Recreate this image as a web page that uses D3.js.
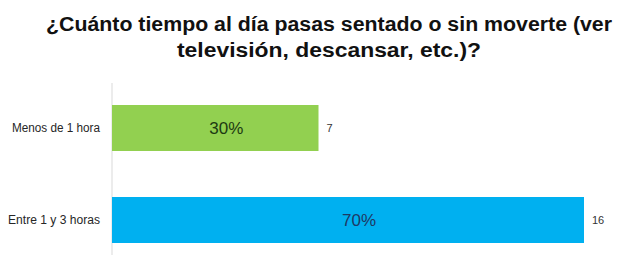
<!DOCTYPE html>
<html><head><meta charset="utf-8">
<script src="https://cdn.jsdelivr.net/npm/d3@7"></script>
<style>body{margin:0;background:#fff}svg{display:block}</style>
</head><body>
<svg id="c" width="623" height="255"></svg>
<script>
const titleLines = ["¿Cuánto tiempo al día pasas sentado o sin moverte (ver", "televisión, descansar, etc.)?"];
const categories = ["Menos de 1 hora", "Entre 1 y 3 horas"];
const counts = [7, 16];
const percents = ["30%", "70%"];
const colors = ["#92d050", "#00b0f0"];
const pctColors = ["#1d3a12", "#1f3864"];

const svg = d3.select("#c");
const font = "'Liberation Sans', Arial, sans-serif";

const x = d3.scaleLinear().domain([0, 16]).range([112, 584]);
const y = d3.scaleBand().domain(categories).range([82, 266]).paddingInner(0.5).paddingOuter(0.25);

// title
const tw = [566, 304];
const tc = 329;
const tb = [31, 57];
titleLines.forEach((t, i) => {
  svg.append("text").attr("x", tc).attr("y", tb[i]).attr("text-anchor", "middle")
    .attr("font-family", font).attr("font-weight", "bold").attr("font-size", 20)
    .attr("fill", "#111").attr("textLength", tw[i]).attr("lengthAdjust", "spacingAndGlyphs")
    .text(t);
});

// axis line
svg.append("line").attr("x1", 112).attr("x2", 112).attr("y1", 83).attr("y2", 255)
  .attr("stroke", "#d9d9d9").attr("stroke-width", 1);

const g = svg.append("g");
g.selectAll("rect").data(categories).join("rect")
  .attr("x", x(0)).attr("y", d => y(d))
  .attr("width", (d, i) => x(counts[i]) - x(0)).attr("height", y.bandwidth())
  .attr("fill", (d, i) => colors[i]);

// category labels
const catW = [88, 92];
g.selectAll("text.cat").data(categories).join("text").attr("class", "cat")
  .attr("x", 100).attr("y", d => y(d) + y.bandwidth() / 2 + 4)
  .attr("text-anchor", "end").attr("font-family", font).attr("font-size", 12)
  .attr("fill", "#262626")
  .attr("textLength", (d, i) => catW[i]).attr("lengthAdjust", "spacingAndGlyphs")
  .text(d => d);

// percent labels
g.selectAll("text.pct").data(categories).join("text").attr("class", "pct")
  .attr("x", (d, i) => (x(0) + x(counts[i])) / 2 + 11)
  .attr("y", d => y(d) + y.bandwidth() / 2 + 6)
  .attr("text-anchor", "middle").attr("font-family", font).attr("font-size", 17)
  .attr("fill", (d, i) => pctColors[i])
  .text((d, i) => percents[i]);

// value labels
g.selectAll("text.val").data(categories).join("text").attr("class", "val")
  .attr("x", (d, i) => x(counts[i]) + 8)
  .attr("y", d => y(d) + y.bandwidth() / 2 + 4)
  .attr("font-family", font).attr("font-size", 11)
  .attr("fill", "#333")
  .text((d, i) => counts[i]);
</script>
</body></html>
